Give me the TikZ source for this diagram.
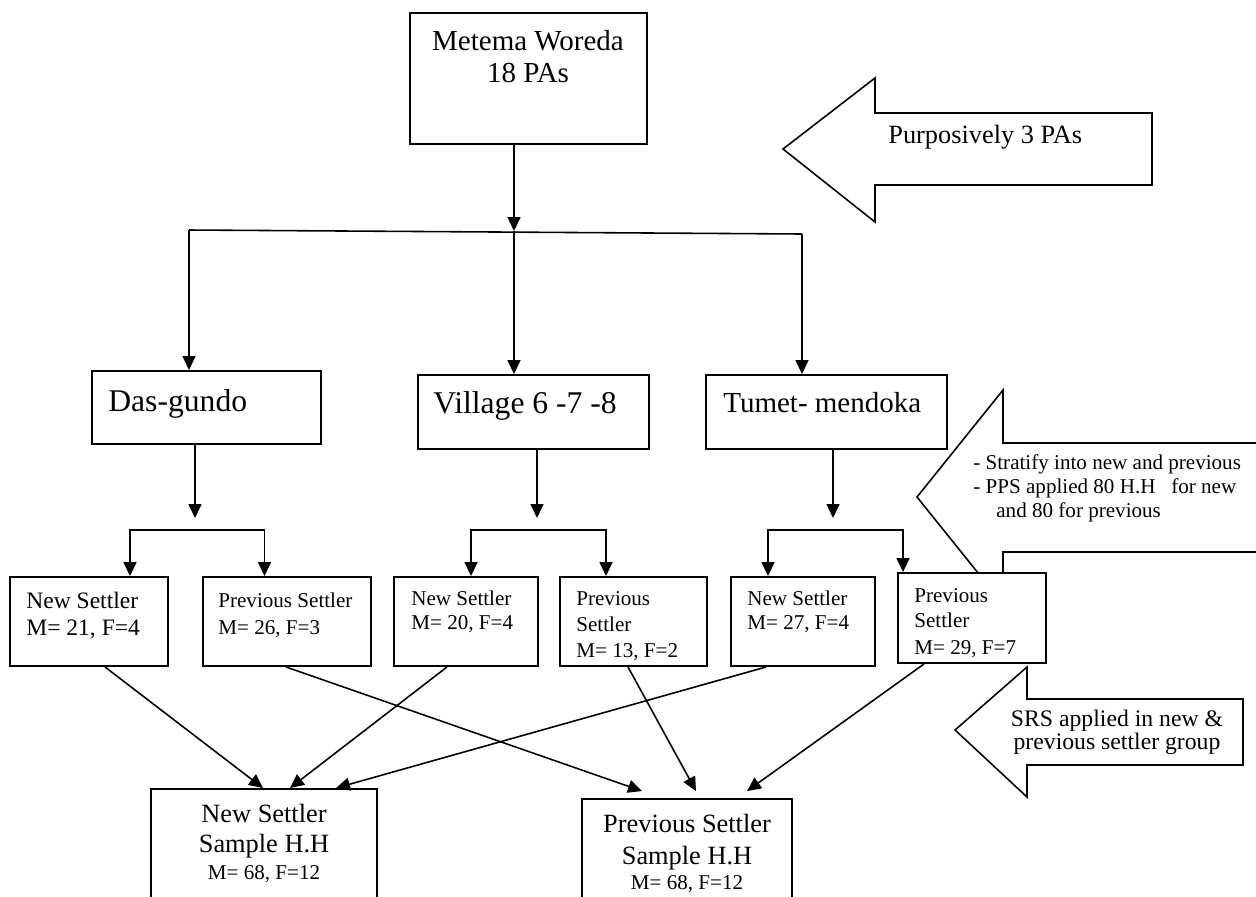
\documentclass[tikz,border=0pt]{standalone}
\usepackage{fontspec}
\setmainfont{Liberation Serif}
\usetikzlibrary{arrows.meta,fit,calc}
\begin{document}
\begin{tikzpicture}[x=0.02cm,y=-0.02cm,
  box/.style={draw, line width=1.1pt, inner sep=0pt, fill=white},
  ln/.style={line width=0.9pt},
  arr/.style={line width=0.9pt, -{Triangle[length=0.28cm,width=0.26cm]}},
  darr/.style={line width=0.9pt, {Triangle[length=0.28cm,width=0.26cm]}-{Triangle[length=0.28cm,width=0.26cm]}},
  bigarrow/.style={draw, line width=0.9pt, fill=white, line join=miter},
  txt/.style={inner sep=0pt, anchor=base west},
  ctxt/.style={inner sep=0pt, anchor=base},
  fbig/.style={font=\fontsize{16.5}{19}\selectfont},
  fhuge/.style={font=\fontsize{18}{20}\selectfont},
  fmid/.style={font=\fontsize{15}{17}\selectfont},
  fsm/.style={font=\fontsize{12}{14}\selectfont},
  fsmb/.style={font=\fontsize{13.4}{15}\selectfont},
  fsrs/.style={font=\fontsize{13.5}{15}\selectfont},
  ]
\useasboundingbox (0,0) rectangle (1256,896);
\clip (0,0) rectangle (1256,896);

% block arrows / callouts
\draw[bigarrow] (1152,113) -- (875,113) -- (875,78) -- (783,149) -- (875,222) -- (875,185) -- (1152,185) -- cycle;
\node[txt, fmid] (purp) at (888,143) {Purposively 3 PAs};

\draw[bigarrow] (1300,443) -- (1003,443) -- (1003,390) -- (917,497) -- (1003,604) -- (1003,552) -- (1300,552);
\node[txt, fsm] (strat1) at (973,469) {- Stratify into new and previous};
\node[txt, fsm] (strat2) at (973,493) {- PPS applied 80 H.H\ \ \ for new};
\node[txt, fsm] (strat3) at (996,517) {and 80 for previous};

\draw[bigarrow] (1243,699) -- (1027,699) -- (1027,667) -- (955,730) -- (1027,797) -- (1027,765) -- (1243,765) -- cycle;
\node[ctxt, fsrs] (srs1) at (1117,726) {SRS applied in new \&};
\node[ctxt, fsrs] (srs2) at (1117,749) {previous settler group};

% top box
\node[box, fit={(410,13) (647,144)}] (metema) {};
\node[ctxt, fbig] (metema1) at (528,50) {Metema Woreda};
\node[ctxt, fbig] (metema2) at (528,82) {18 PAs};

% PAs
\node[box, fit={(92,371) (321,444)}] (das) {};
\node[txt, fhuge] (dast) at (108,411) {Das-gundo};
\node[box, fit={(418,375) (649,449)}] (village) {};
\node[txt, fhuge] (villt) at (433,413) {Village 6 -7 -8};
\node[box, fit={(706,375) (947,449)}] (tumet) {};
\node[txt, fbig] (tumt) at (723,412) {Tumet- mendoka};

% settler groups
\node[box, fit={(10,577) (168,666)}] (ns1) {};
\node[txt, fsmb] (ns1a) at (26,608) {New Settler};
\node[txt, fsmb] (ns1b) at (26,635) {M= 21, F=4};
\node[box, fit={(203,577) (371,666)}] (ps1) {};
\node[txt, fsm] (ps1a) at (218,607) {Previous Settler};
\node[txt, fsm] (ps1b) at (218,634) {M= 26, F=3};
\node[box, fit={(394,577) (538,666)}] (ns2) {};
\node[txt, fsm] (ns2a) at (411,605) {New Settler};
\node[txt, fsm] (ns2b) at (411,629) {M= 20, F=4};
\node[box, fit={(560,577) (707,666)}] (ps2) {};
\node[txt, fsm] (ps2a) at (576,605) {Previous};
\node[txt, fsm] (ps2b) at (576,631) {Settler};
\node[txt, fsm] (ps2c) at (576,657) {M= 13, F=2};
\node[box, fit={(731,577) (875,666)}] (ns3) {};
\node[txt, fsm] (ns3a) at (747,605) {New Settler};
\node[txt, fsm] (ns3b) at (747,629) {M= 27, F=4};
\node[box, fit={(898,573) (1046,663)}] (ps3) {};
\node[txt, fsm] (ps3a) at (914,602) {Previous};
\node[txt, fsm] (ps3b) at (914,627) {Settler};
\node[txt, fsm] (ps3c) at (914,654) {M= 29, F=7};

% samples
\node[box, fit={(151,789) (377,920)}] (nsS) {};
\node[ctxt, fmid] (nsSa) at (264,822) {New Settler};
\node[ctxt, fmid] (nsSb) at (264,852) {Sample H.H};
\node[ctxt, fsm] (nsSc) at (264,879) {M= 68, F=12};
\node[box, fit={(582,799) (792,920)}] (psS) {};
\node[ctxt, fmid] (psSa) at (687,832) {Previous Settler};
\node[ctxt, fmid] (psSb) at (687,864) {Sample H.H};
\node[ctxt, fsm] (psSc) at (687,889) {M= 68, F=12};

% connectors: top
\coordinate (j) at (514,231);
\coordinate (hL) at (189,230);
\coordinate (hR) at (802,234);
\draw[arr] (j |- metema.south) -- (j);
\draw[ln] (hL) -- (hR);
\draw[arr] (hL) -- (hL |- das.north);
\draw[arr] (j) -- (j |- village.north);
\draw[arr] (hR) -- (hR |- tumet.north);

% splits
\coordinate (dA) at (195,518);
\coordinate (dL) at (130,530);
\coordinate (dR) at (264.5,530);
\draw[arr] (dA |- das.south) -- (dA);
\draw[darr] (dL |- ns1.north) -- (dL) -- (dR) -- (dR |- ps1.north);

\coordinate (vA) at (537,518);
\coordinate (vL) at (471,530);
\coordinate (vR) at (606,530);
\draw[arr] (vA |- village.south) -- (vA);
\draw[darr] (vL |- ns2.north) -- (vL) -- (vR) -- (vR |- ps2.north);

\coordinate (tA) at (833,518);
\coordinate (tL) at (768,530);
\coordinate (tR) at (903,530);
\draw[arr] (tA |- tumet.south) -- (tA);
\draw[darr] (tL |- ns3.north) -- (tL) -- (tR) -- (tR |- ps3.north);

% to samples
\draw[arr] (ns1.south -| 105,0) -- (nsS.north -| 263,0);
\draw[arr] (ns2.south -| 447,0) -- (nsS.north -| 290,0);
\draw[arr] (ns3.south -| 766,0) -- (nsS.north -| 336,0);
\draw[arr] (ps1.south -| 286,0) -- ($(psS.north -| 642,0)+(0,-7)$);
\draw[arr] (ps2.south -| 628,0) -- ($(psS.north -| 696,0)+(0,-7)$);
\draw[arr] (ps3.south -| 924,0) -- ($(psS.north -| 747,0)+(0,-7)$);
\end{tikzpicture}
\end{document}
